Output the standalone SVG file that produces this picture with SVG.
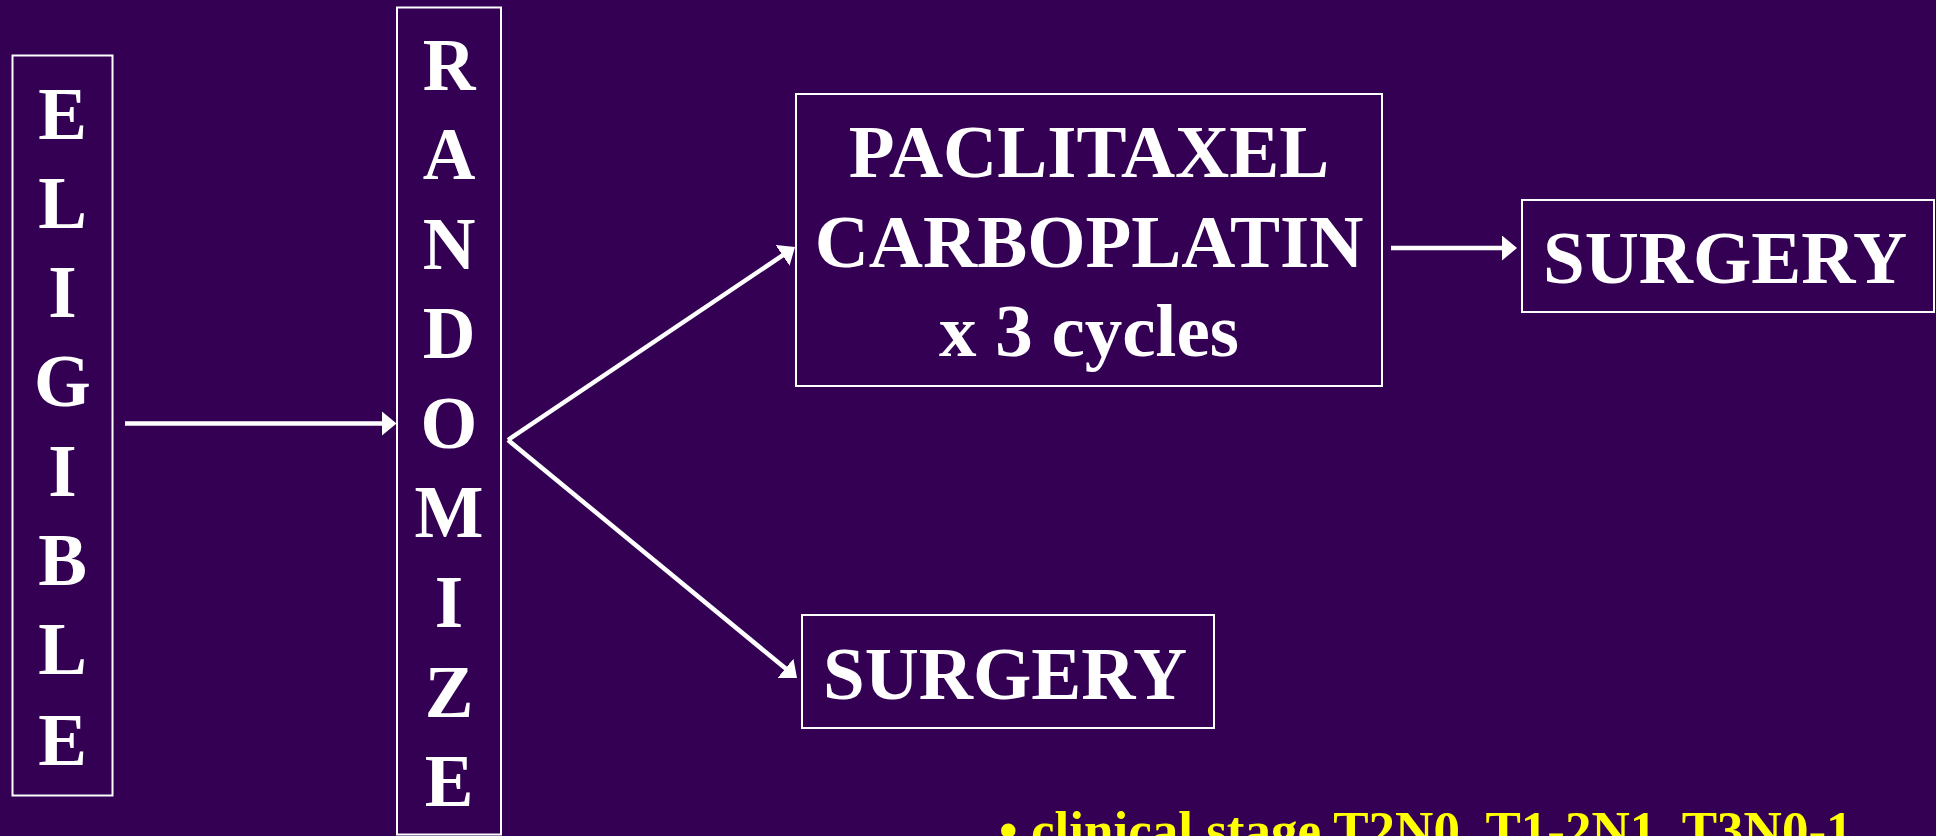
<svg xmlns="http://www.w3.org/2000/svg" width="1936" height="836" viewBox="0 0 1936 836">
<defs>
<style>
.box{fill:none;stroke:#ffffff;stroke-width:2}
.t{font-family:"Liberation Serif","Times New Roman",serif;font-weight:bold;fill:#ffffff;text-anchor:middle}
.big{font-size:75px}
.v{font-size:73px}
.conn{stroke:#ffffff;stroke-width:4.5;fill:none;marker-end:url(#ah)}
.note{font-family:"Liberation Serif","Times New Roman",serif;font-weight:bold;fill:#ffff00;font-size:53px}
</style>
<marker id="ah" markerUnits="userSpaceOnUse" markerWidth="16" markerHeight="26" refX="5" refY="12.5" orient="auto" viewBox="0 0 16 26">
<path d="M0,0 L15,12.5 L0,25 z" fill="#ffffff"/>
</marker>
</defs>
<rect width="1936" height="836" fill="#330054"/>
<g id="eligible">
<rect class="box" x="12.5" y="55.5" width="100" height="740"/>
<text class="t v" x="62.5" y="138.5">E</text>
<text class="t v" x="62.5" y="227.5">L</text>
<text class="t v" x="62.5" y="316.5">I</text>
<text class="t v" x="62.5" y="405.5">G</text>
<text class="t v" x="62.5" y="495.5">I</text>
<text class="t v" x="62.5" y="584.5">B</text>
<text class="t v" x="62.5" y="674">L</text>
<text class="t v" x="62.5" y="765">E</text>
</g>
<g id="randomize">
<rect class="box" x="397" y="7.5" width="104" height="827"/>
<text class="t v" x="449" y="89.5">R</text>
<text class="t v" x="449" y="179">A</text>
<text class="t v" x="449" y="268.5">N</text>
<text class="t v" x="449" y="358">D</text>
<text class="t v" x="449" y="447.5">O</text>
<text class="t v" x="449" y="537">M</text>
<text class="t v" x="449" y="626.5">I</text>
<text class="t v" x="449" y="716.5">Z</text>
<text class="t v" x="449" y="806">E</text>
</g>
<g id="chemo">
<rect class="box" x="796" y="94" width="586" height="292"/>
<text class="t big" x="1089" y="177">PACLITAXEL</text>
<text class="t big" x="1089" y="267">CARBOPLATIN</text>
<text class="t big" x="1089" y="356">x 3 cycles</text>
</g>
<g id="surgery1">
<rect class="box" x="1522" y="200" width="412" height="112"/>
<text class="t big" x="1725" y="283">SURGERY</text>
</g>
<g id="surgery2">
<rect class="box" x="802" y="615" width="412" height="113"/>
<text class="t big" x="1005" y="699">SURGERY</text>
</g>
<g id="connectors">
<line class="conn" x1="125" y1="423.5" x2="386.5" y2="423.5"/>
<line class="conn" x1="508" y1="440" x2="786.7" y2="252.6"/>
<line class="conn" x1="508" y1="440" x2="789.3" y2="671.6"/>
<line class="conn" x1="1391" y1="248" x2="1507" y2="248"/>
</g>
<g id="note">
<text class="note" x="999" y="848">•<tspan x="1031">clinical stage T2N0, T1-2N1, T3N0-1</tspan></text>
</g>
</svg>
